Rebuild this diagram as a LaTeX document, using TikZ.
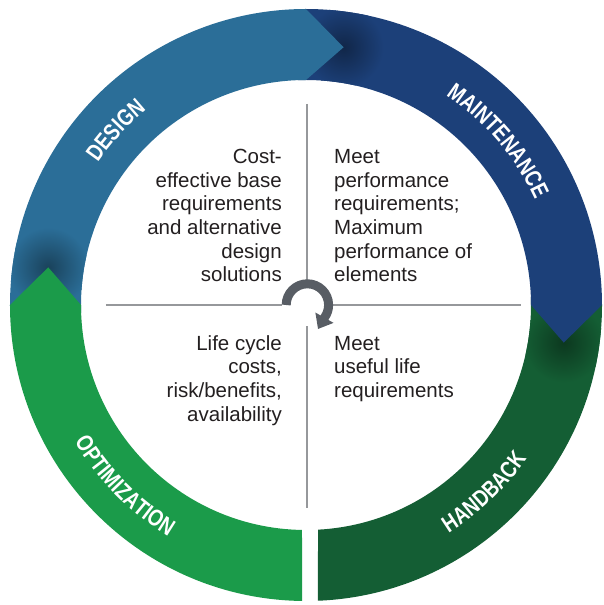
\documentclass[tikz,border=0pt]{standalone}
\usepackage{fontspec}
\setmainfont{Liberation Sans}
\newfontfamily\ringfont[Scale=2.35,FakeStretch=0.8,LetterSpace=9.0]{Liberation Sans}
\usetikzlibrary{arrows.meta,decorations.text}
\definecolor{designblue}{RGB}{43,110,152}
\definecolor{maintblue}{RGB}{28,64,121}
\definecolor{handgreen}{RGB}{20,94,52}
\definecolor{optgreen}{RGB}{27,155,74}
\definecolor{loopgray}{RGB}{88,93,100}
\definecolor{linegray}{RGB}{150,152,155}
\definecolor{textgray}{RGB}{35,31,32}

\begin{document}
\begin{tikzpicture}[
    ring text/.style={decorate, decoration={text along path,
        text align=center, text color=white, text={|\ringfont\bfseries|#1}}},
    body/.style={font=\fontsize{20.5pt}{23.6pt}\selectfont, text=textgray, inner sep=0pt},
    divider/.style={draw=linegray, line width=1.4pt}
]
    \useasboundingbox (-306pt,-300pt) rectangle (297pt,305pt);

    % handback, with the shadow of the maintenance tip
    \begin{scope}
        \clip[preaction={fill=handgreen}] (2:296pt) arc[start angle=2, end angle=-87.68, radius=296pt]
            -- (-86.94:225pt) arc[start angle=-86.94, end angle=2, radius=225pt] -- cycle;
        \shade[inner color=handgreen!60!black, outer color=handgreen] (-8.3:260.5pt) circle[radius=40pt];
    \end{scope}
    % maintenance
    \begin{scope}
        \clip[preaction={fill=maintblue}] (92:296pt) arc[start angle=92, end angle=0, radius=296pt]
            -- (-8.3:260.5pt) -- (0:225pt) arc[start angle=0, end angle=92, radius=225pt] -- cycle;
        \shade[inner color=maintblue!60!black, outer color=maintblue] (81.7:260.5pt) circle[radius=40pt];
    \end{scope}
    % design
    \begin{scope}
        \clip[preaction={fill=designblue}] (182:296pt) arc[start angle=182, end angle=90, radius=296pt]
            -- (81.7:260.5pt) -- (90:225pt) arc[start angle=90, end angle=182, radius=225pt] -- cycle;
        \shade[inner color=designblue!60!black, outer color=designblue] (171.7:260.5pt) circle[radius=40pt];
    \end{scope}
    % optimization
    \fill[optgreen] (269.23:296pt) arc[start angle=269.23, end angle=180, radius=296pt]
        -- (171.7:260.5pt) -- (180:225pt) arc[start angle=180, end angle=268.98, radius=225pt] -- cycle;

    % labels on the ring
    \path[ring text=DESIGN] (177.5:252pt) arc[start angle=177.5, end angle=97.5, radius=252pt];
    \path[ring text=MAINTENANCE] (80.5:252pt) arc[start angle=80.5, end angle=0.5, radius=252pt];
    \path[ring text=HANDBACK] (-86.4:269pt) arc[start angle=-86.4, end angle=-6.4, radius=269pt];
    \path[ring text=OPTIMIZATION] (184.9:269pt) arc[start angle=184.9, end angle=264.9, radius=269pt];

    % quadrants
    \draw[divider] (1pt,201pt) -- (1pt,25pt);
    \draw[divider] (1pt,-21pt) -- (1pt,-203pt);
    \draw[divider] (-200pt,0pt) -- (-24pt,0pt);
    \draw[divider] (27pt,0pt) -- (215pt,0pt);

    \draw[loopgray, line width=9pt, -{Triangle[length=13pt, width=20pt]}]
        ([xshift=1.4pt]180:21.2pt) arc[start angle=180, end angle=-35, radius=21.2pt] -- (12pt,-24pt);

    \node[body, anchor=base east, align=right] (costtext) at (-24pt,23.3pt)
        {Cost-\\effective base\\requirements\\and alternative\\design\\solutions};
    \node[body, anchor=base west, align=left] (perftext) at (28pt,23.3pt)
        {Meet\\performance\\requirements;\\Maximum\\performance of\\elements};
    \node[body, anchor=base east, align=right] (lifetext) at (-24pt,-116pt)
        {Life cycle\\costs,\\risk/benefits,\\availability};
    \node[body, anchor=base west, align=left] (usetext) at (28pt,-92.4pt)
        {Meet\\useful life\\requirements};
\end{tikzpicture}
\end{document}
